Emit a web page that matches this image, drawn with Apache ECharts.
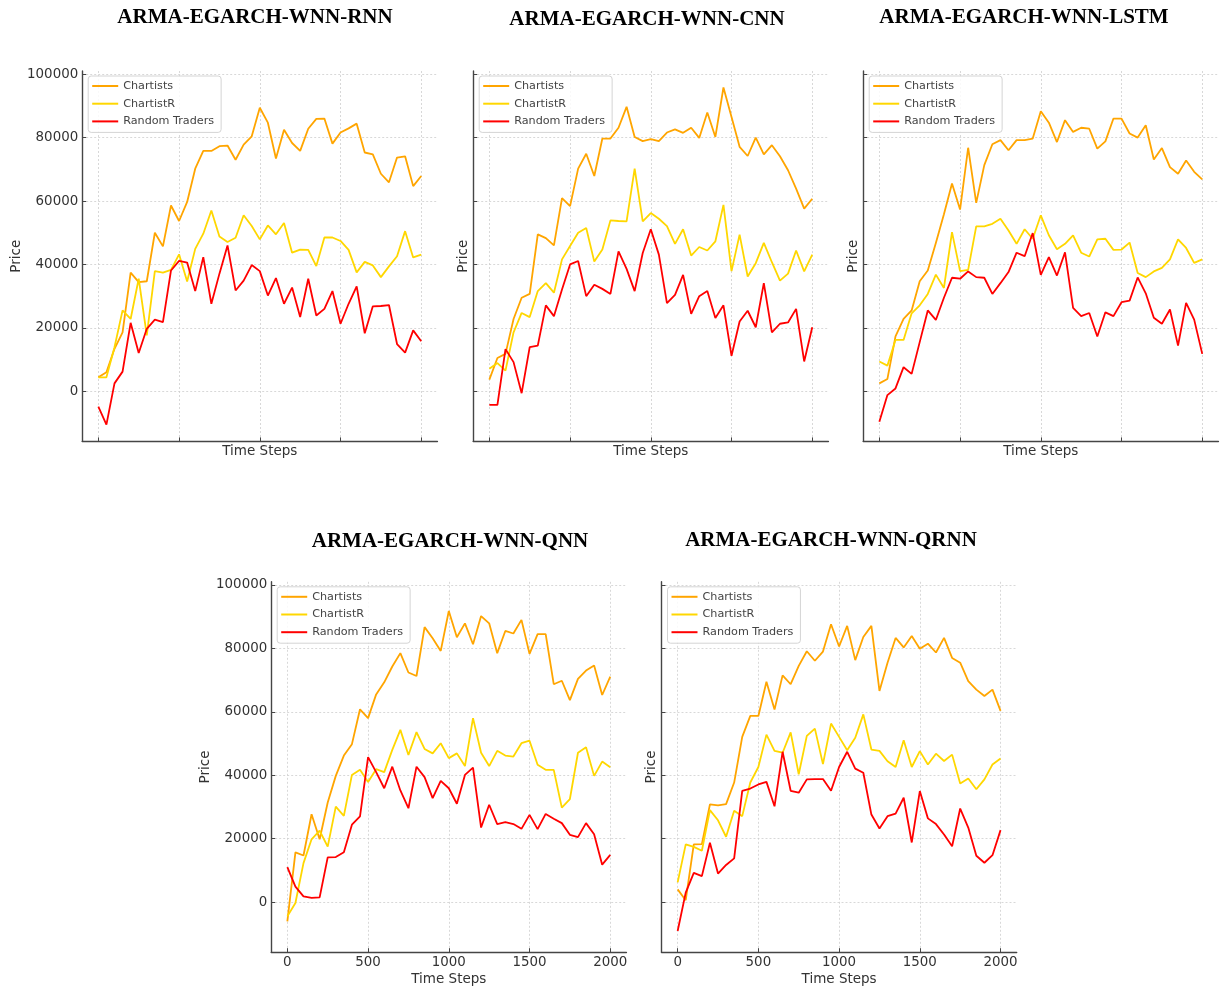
<!DOCTYPE html>
<html>
<head>
<meta charset="utf-8">
<script src="https://cdn.jsdelivr.net/npm/echarts@6/dist/echarts.min.js"></script>
<style>
  html, body { margin: 0; padding: 0; background: #fff; }
  #chart { width: 1224px; height: 992px; }
</style>
</head>
<body>
<div id="chart"></div>
<script>
// Simulation time steps shared by every model run
const timeSteps = [0, 50, 100, 150, 200, 250, 300, 350, 400, 450, 500, 550, 600, 650, 700, 750, 800, 850, 900, 950,
  1000, 1050, 1100, 1150, 1200, 1250, 1300, 1350, 1400, 1450, 1500, 1550, 1600, 1650, 1700, 1750, 1800, 1850, 1900, 1950, 2000];

const yTickValues = [0, 20000, 40000, 60000, 80000, 100000];
const xTickValues = [0, 500, 1000, 1500, 2000];
const seriesNames = ['Chartists', 'ChartistR', 'Random Traders'];

// ARMA-EGARCH-WNN-RNN
const rnnChartists = [4400, 6000, 13400, 18600, 37400, 34400, 34700, 50000, 45700, 58600, 53700, 59700, 70200, 75800, 75800, 77300, 77500, 73000, 77800, 80400,
  89400, 84700, 73400, 82500, 78300, 75800, 82800, 85900, 86000, 78100, 81600, 82900, 84400, 75300, 74700, 68600, 65900, 73700, 74100, 64700, 67900];
const rnnChartistR = [4400, 4400, 13900, 25500, 22800, 35500, 17600, 37900, 37400, 38300, 43200, 34600, 44900, 49700, 57000, 48800, 47100, 48400, 55500, 52100,
  47900, 52300, 49500, 53100, 43700, 44700, 44600, 39500, 48500, 48500, 47400, 44600, 37500, 40800, 39700, 36000, 39400, 42600, 50500, 42200, 43100];
const rnnRandom = [-4800, -10500, 2500, 6200, 21600, 12100, 19700, 22600, 21800, 38100, 41100, 40600, 31600, 42300, 27600, 37100, 46000, 31800, 34900, 39800,
  37900, 30200, 35700, 27600, 32700, 23400, 35500, 23900, 26000, 31600, 21300, 27600, 33100, 18300, 26800, 26900, 27200, 14900, 12200, 19200, 15800];

// ARMA-EGARCH-WNN-CNN
const cnnChartists = [3700, 10500, 11800, 22800, 29500, 30700, 49500, 48300, 46000, 60900, 58400, 70200, 74900, 67900, 79700, 79700, 83100, 89700, 80200, 78900,
  79500, 78900, 81600, 82600, 81500, 83100, 79900, 87900, 80200, 95800, 86500, 77100, 74200, 80000, 74700, 77600, 74100, 69700, 63900, 57600, 60700];
const cnnChartistR = [7100, 8900, 6500, 18600, 24700, 23400, 31600, 34100, 31100, 41600, 45800, 50000, 51500, 40900, 44700, 53900, 53700, 53600, 70200, 53600,
  56200, 54400, 52100, 46500, 51100, 42800, 45500, 44400, 47300, 58800, 37900, 49400, 36200, 40400, 46800, 40700, 34900, 37100, 44400, 37800, 43100];
const cnnRandom = [-4300, -4300, 13300, 9200, -600, 13900, 14400, 27100, 23700, 32100, 40000, 41100, 30000, 33600, 32300, 30700, 44100, 38600, 31600, 43600,
  51100, 43100, 27800, 30400, 36700, 24400, 30000, 31600, 23100, 27100, 11200, 22000, 25400, 20200, 34100, 18600, 21300, 21700, 26000, 9400, 20200];

// ARMA-EGARCH-WNN-LSTM
const lstmChartists = [2500, 3900, 17300, 22800, 25500, 34700, 38100, 46800, 55800, 65500, 57300, 76800, 59400, 71300, 77900, 79200, 76000, 79200, 79200, 79700,
  88300, 84700, 78600, 85500, 81800, 83100, 82800, 76500, 78800, 86000, 86000, 81300, 80000, 83900, 73100, 76700, 70700, 68600, 72800, 69200, 66800];
const lstmChartistR = [9400, 8100, 16200, 16200, 24600, 27100, 30700, 36800, 32600, 50200, 37900, 38300, 52000, 52000, 52800, 54400, 50700, 46500, 51100, 48100,
  55500, 49200, 44800, 46500, 49200, 43700, 42500, 47900, 48100, 44600, 44700, 46900, 37300, 36000, 37800, 38900, 41600, 47900, 45200, 40500, 41600];
const lstmRandom = [-9600, -1200, 900, 7600, 5500, 15500, 25500, 22500, 29500, 35800, 35500, 37800, 36000, 35800, 30700, 34100, 37600, 43700, 42600, 49900,
  36700, 42300, 36500, 43800, 26300, 23700, 24700, 17300, 24900, 23700, 28100, 28600, 35900, 30900, 23200, 21300, 25800, 14400, 27900, 22600, 11800];

// ARMA-EGARCH-WNN-QNN
const qnnChartists = [-6100, 15700, 14700, 27700, 19800, 31400, 39800, 46200, 49800, 60800, 58000, 65500, 69300, 74300, 78500, 72400, 71300, 86700, 83200, 79200,
  91800, 83500, 87900, 81300, 90200, 87900, 78500, 85500, 84700, 89000, 78300, 84500, 84500, 68700, 69800, 63700, 70400, 73000, 74600, 65300, 71100];
const qnnChartistR = [-4500, -300, 12300, 19800, 22500, 17500, 30100, 27200, 40100, 41700, 37900, 41900, 41000, 48000, 54300, 46400, 53600, 48300, 46900, 50100,
  45400, 46900, 42900, 58000, 47100, 42900, 47700, 46200, 45900, 50100, 50900, 43300, 41700, 41700, 29800, 32500, 47100, 48800, 39800, 44300, 42500];
const qnnRandom = [11000, 4900, 1800, 1300, 1500, 14100, 14200, 15700, 24400, 27000, 45700, 41000, 35900, 42700, 35200, 29600, 42700, 39400, 32800, 38200,
  35900, 31000, 40100, 42400, 23500, 30700, 24600, 25200, 24600, 23100, 27500, 23000, 27800, 26300, 24900, 21200, 20500, 24900, 21400, 11800, 14900];

// ARMA-EGARCH-WNN-QRNN
const qrnnChartists = [4000, 600, 18200, 18300, 30800, 30500, 30900, 37700, 52100, 58700, 58700, 69500, 60700, 71500, 68700, 74500, 79100, 76100, 79000, 87600,
  80600, 87100, 76300, 83600, 87100, 66600, 75500, 83300, 80300, 83900, 79900, 81500, 78700, 83300, 77000, 75500, 69700, 67000, 65000, 67000, 60300];
const qrnnChartistR = [6200, 18200, 17400, 16200, 29000, 25800, 20600, 28800, 27100, 37700, 42600, 52800, 47700, 47100, 53500, 40300, 52400, 54700, 43500, 56300,
  52100, 47900, 51800, 59200, 48100, 47700, 44400, 42600, 51000, 42600, 47600, 43400, 46800, 44500, 46500, 37400, 39000, 35600, 38700, 43400, 45300];
const qrnnRandom = [-9100, 3000, 9200, 8200, 18700, 9000, 11700, 13800, 35100, 35800, 37100, 37900, 30200, 47400, 35100, 34500, 38700, 38800, 38800, 35100,
  42600, 47400, 42100, 40800, 27600, 23200, 27100, 27900, 32900, 18800, 35000, 26400, 24600, 21300, 17600, 29500, 23500, 14600, 12400, 14800, 22700];

// Panel layout: one grid per model
const panels = [
  { title: 'ARMA-EGARCH-WNN-RNN',  tx: 255, ty: 17.5, left: 82.2,  top: 71,    values: [rnnChartists, rnnChartistR, rnnRandom],    yLabels: true,  xLabels: false },
  { title: 'ARMA-EGARCH-WNN-CNN',  tx: 647, ty: 20,   left: 473.2, top: 71,    values: [cnnChartists, cnnChartistR, cnnRandom],    yLabels: false, xLabels: false },
  { title: 'ARMA-EGARCH-WNN-LSTM', tx: 1024, ty: 17.5, left: 863.2, top: 71,   values: [lstmChartists, lstmChartistR, lstmRandom], yLabels: false, xLabels: false },
  { title: 'ARMA-EGARCH-WNN-QNN',  tx: 450, ty: 542,  left: 271.2, top: 581.8, values: [qnnChartists, qnnChartistR, qnnRandom],    yLabels: true,  xLabels: true },
  { title: 'ARMA-EGARCH-WNN-QRNN', tx: 831, ty: 541,  left: 661.5, top: 581.8, values: [qrnnChartists, qrnnChartistR, qrnnRandom], yLabels: false, xLabels: true }
];

const lineColors = ['#FFA500', '#FFD700', '#FF0000'];
const PLOT_W = 355.2;
const PLOT_H = 370.4;
const inkColor = '#333333';
const spineColor = '#454545';
const gridColor = '#cfcfcf';
const fontFamily = 'DejaVu Sans';
const plainNumber = v => String(v);

const grids = [], xAxes = [], yAxes = [], series = [], legends = [], texts = [];

panels.forEach((p, i) => {
  grids.push({ left: p.left, top: p.top, width: PLOT_W, height: PLOT_H, containLabel: false });

  xAxes.push({
    gridIndex: i, type: 'value', min: -100, max: 2100,
    name: 'Time Steps', nameLocation: 'middle', nameGap: p.xLabels ? 20 : 3,
    nameTextStyle: { fontFamily, fontSize: 13.5, color: inkColor },
    axisLine: { show: true, onZero: false, lineStyle: { color: spineColor, width: 1.4 } },
    axisTick: { show: true, inside: true, length: 4, customValues: xTickValues, lineStyle: { color: spineColor, width: 1 } },
    axisLabel: { show: p.xLabels, customValues: xTickValues, formatter: plainNumber, margin: 4, fontFamily, fontSize: 13.4, color: inkColor },
    splitLine: { show: true, lineStyle: { color: gridColor, width: 0.8, type: [2, 2] } }
  });

  yAxes.push({
    gridIndex: i, type: 'value', min: -15800, max: 101000,
    name: 'Price', nameLocation: 'middle', nameGap: p.yLabels ? 59 : 3,
    nameTextStyle: { fontFamily, fontSize: 13.5, color: inkColor },
    axisLine: { show: true, onZero: false, lineStyle: { color: spineColor, width: 1.4 } },
    axisTick: { show: true, inside: true, length: 4, customValues: yTickValues, lineStyle: { color: spineColor, width: 1 } },
    axisLabel: { show: p.yLabels, customValues: yTickValues, formatter: plainNumber, margin: 4, fontFamily, fontSize: 13.4, color: inkColor },
    splitLine: { show: true, lineStyle: { color: gridColor, width: 0.8, type: [2, 2] } }
  });

  p.values.forEach((vals, k) => {
    series.push({
      type: 'line', name: seriesNames[k], xAxisIndex: i, yAxisIndex: i,
      data: timeSteps.map((t, j) => [t, vals[j]]),
      symbol: 'none', showSymbol: false, silent: true, animation: false,
      lineStyle: { color: lineColors[k], width: 1.8 },
      itemStyle: { color: lineColors[k] },
      z: 2 + k
    });
  });

  legends.push({
    data: seriesNames, orient: 'vertical',
    left: p.left + 6, top: p.top + 5,
    icon: 'rect', itemWidth: 26, itemHeight: 2,
    padding: [3, 7, 4, 4], itemGap: 3.7,
    backgroundColor: 'rgba(255,255,255,0.85)', borderColor: '#d4d4d4', borderWidth: 1, borderRadius: 3,
    textStyle: { fontFamily, fontSize: 11.2, color: '#444', lineHeight: 14 },
    selectedMode: false
  });

  texts.push({
    type: 'text', x: p.tx, y: p.ty,
    style: {
      text: p.title, fill: '#000', textAlign: 'center', textVerticalAlign: 'middle',
      font: 'bold 21px "Liberation Serif", "Times New Roman", serif'
    }
  });
});

const chart = echarts.init(document.getElementById('chart'), null, { renderer: 'canvas' });
chart.setOption({
  backgroundColor: '#ffffff',
  animation: false,
  grid: grids,
  xAxis: xAxes,
  yAxis: yAxes,
  legend: legends,
  graphic: { elements: texts },
  series: series
});
</script>
</body>
</html>
